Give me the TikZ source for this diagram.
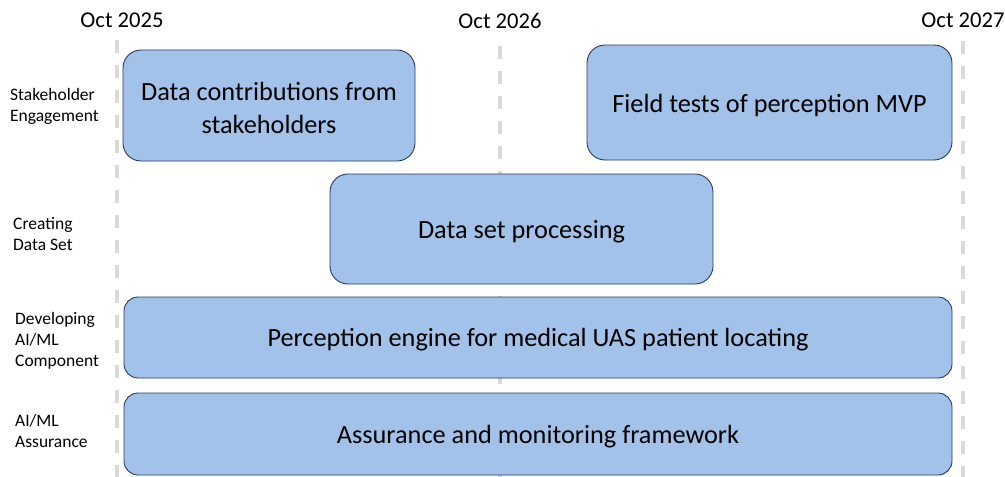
\documentclass[tikz,border=0pt]{standalone}
\usepackage{fontspec}
\setmainfont{Carlito}
\definecolor{boxfill}{RGB}{162,194,234}
\definecolor{boxline}{RGB}{38,58,96}
\definecolor{gridgray}{RGB}{217,217,217}
\begin{document}
\begin{tikzpicture}[x=1pt,y=-1pt,
  task/.style={draw=boxline, line width=0.9pt, fill=boxfill, rounded corners=#1, inner sep=0pt},
  task/.default=18pt,
  tasktext/.style={inner sep=0pt, align=center, yshift=-2.5pt, font=\fontsize{26.3}{33}\selectfont},
  datelbl/.style={font=\fontsize{22.6}{26}\selectfont, inner sep=0pt},
  rowlbl/.style={font=\fontsize{17.5}{21}\selectfont, inner sep=0pt, align=left, anchor=west},
  gridline/.style={draw=gridgray, line width=3.5pt, dash pattern=on 13pt off 12pt}]
\useasboundingbox (0,0) rectangle (1005,477);
% grid lines
\draw[gridline] (117,40) -- (117,477);
\draw[gridline] (500,46) -- (500,477);
\draw[gridline] (963,41) -- (963,477);
% dates
\node[datelbl] (d25) at (122,20.5) {Oct 2025};
\node[datelbl] (d26) at (500,20.5) {Oct 2026};
\node[datelbl] (d27) at (963,20.5) {Oct 2027};
% row labels
\node[rowlbl] (r1) at (10,106) {Stakeholder\\Engagement};
\node[rowlbl] (r2) at (13,234) {Creating\\Data Set};
\node[rowlbl] (r3) at (15,340.5) {Developing\\AI/ML\\Component};
\node[rowlbl] (r4) at (15,431) {AI/ML\\Assurance};
% boxes
\node[task, minimum width=292pt, minimum height=111pt] (b1) at (269,105.5) {};
\node[task, minimum width=365pt, minimum height=115pt] (b2) at (769.5,102.5) {};
\node[task, minimum width=383pt, minimum height=110pt] (b3) at (521.5,229) {};
\node[task=14pt, minimum width=828pt, minimum height=81pt] (b4) at (538,337.5) {};
\node[task=14pt, minimum width=828pt, minimum height=82pt] (b5) at (538,434) {};
% box texts
\node[tasktext] (t1) at (b1.center) {Data contributions from\\stakeholders};
\node[tasktext] (t2) at (b2.center) {Field tests of perception MVP};
\node[tasktext] (t3) at (b3.center) {Data set processing};
\node[tasktext] (t4) at (b4.center) {Perception engine for medical UAS patient locating};
\node[tasktext] (t5) at (b5.center) {Assurance and monitoring framework};
\end{tikzpicture}
\end{document}
